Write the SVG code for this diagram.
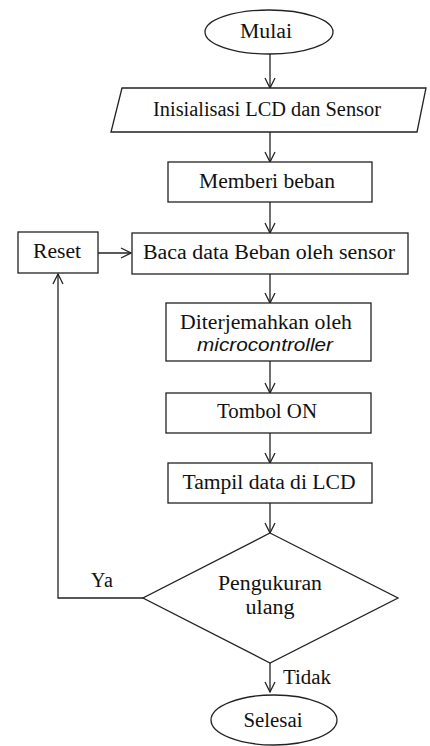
<svg xmlns="http://www.w3.org/2000/svg" width="430" height="746" viewBox="0 0 430 746">
<style>
.s{fill:#fff;stroke:#222;stroke-width:1.3}
.t{font-family:"Liberation Serif","Times New Roman",serif;font-size:20px;fill:#111;text-anchor:middle}
.i{font-family:"Liberation Sans",Arial,sans-serif;font-style:italic;font-size:18px;fill:#111;text-anchor:middle}
.c{fill:none;stroke:#222;stroke-width:1.3}
</style>
<defs>
<marker id="a" viewBox="0 0 12 12" refX="11" refY="6" markerWidth="12" markerHeight="12" markerUnits="userSpaceOnUse" orient="auto">
<path d="M1,1 L11,6 L1,11" fill="none" stroke="#222" stroke-width="1.3"/>
</marker>
</defs>
<g id="connectors">
<line class="c" x1="270" y1="54" x2="270" y2="88" marker-end="url(#a)"/>
<line class="c" x1="270" y1="132" x2="270" y2="162" marker-end="url(#a)"/>
<line class="c" x1="270" y1="202" x2="270" y2="233" marker-end="url(#a)"/>
<line class="c" x1="98" y1="253" x2="131" y2="253" marker-end="url(#a)"/>
<line class="c" x1="270" y1="274" x2="270" y2="303" marker-end="url(#a)"/>
<line class="c" x1="270" y1="361" x2="270" y2="393" marker-end="url(#a)"/>
<line class="c" x1="270" y1="433" x2="270" y2="463" marker-end="url(#a)"/>
<line class="c" x1="270" y1="503" x2="270" y2="533" marker-end="url(#a)"/>
<line class="c" x1="270" y1="663" x2="270" y2="692" marker-end="url(#a)"/>
<polyline class="c" points="143,598 58,598 58,274" marker-end="url(#a)"/>
<text class="t" x="102" y="587" textLength="22" lengthAdjust="spacing">Ya</text>
<text class="t" x="307" y="684" textLength="48" lengthAdjust="spacingAndGlyphs">Tidak</text>
</g>
<g id="mulai">
<ellipse class="s" cx="269" cy="32" rx="64" ry="22"/>
<text class="t" x="266" y="38" textLength="52" lengthAdjust="spacingAndGlyphs">Mulai</text>
</g>
<g id="inisialisasi">
<polygon class="s" points="122,88 426,88 417,132 111,132"/>
<text class="t" x="267" y="116" textLength="228" lengthAdjust="spacingAndGlyphs">Inisialisasi LCD dan Sensor</text>
</g>
<g id="memberi">
<rect class="s" x="168" y="162" width="204" height="40"/>
<text class="t" x="267" y="188" textLength="136" lengthAdjust="spacingAndGlyphs">Memberi beban</text>
</g>
<g id="baca">
<rect class="s" x="132" y="233" width="276" height="41"/>
<text class="t" x="269" y="259" textLength="252" lengthAdjust="spacingAndGlyphs">Baca data Beban oleh sensor</text>
</g>
<g id="reset">
<rect class="s" x="18" y="232" width="80" height="41"/>
<text class="t" x="57" y="258" textLength="48" lengthAdjust="spacingAndGlyphs">Reset</text>
</g>
<g id="diterjemahkan">
<rect class="s" x="166" y="303" width="205" height="58"/>
<text class="t" x="266" y="329" textLength="172" lengthAdjust="spacingAndGlyphs">Diterjemahkan oleh</text>
<text class="i" x="265" y="351" textLength="136" lengthAdjust="spacingAndGlyphs">microcontroller</text>
</g>
<g id="tombol">
<rect class="s" x="166" y="393" width="205" height="40"/>
<text class="t" x="267" y="418" textLength="100" lengthAdjust="spacingAndGlyphs">Tombol ON</text>
</g>
<g id="tampil">
<rect class="s" x="168" y="463" width="204" height="40"/>
<text class="t" x="269" y="489" textLength="173" lengthAdjust="spacingAndGlyphs">Tampil data di LCD</text>
</g>
<g id="pengukuran">
<polygon class="s" points="270,533 398,598 270,663 143,598"/>
<text class="t" x="270" y="590" textLength="104" lengthAdjust="spacingAndGlyphs">Pengukuran</text>
<text class="t" x="270" y="614" textLength="49" lengthAdjust="spacingAndGlyphs">ulang</text>
</g>
<g id="selesai">
<ellipse class="s" cx="274" cy="720" rx="63" ry="25"/>
<text class="t" x="273" y="727" textLength="59" lengthAdjust="spacingAndGlyphs">Selesai</text>
</g>
</svg>
